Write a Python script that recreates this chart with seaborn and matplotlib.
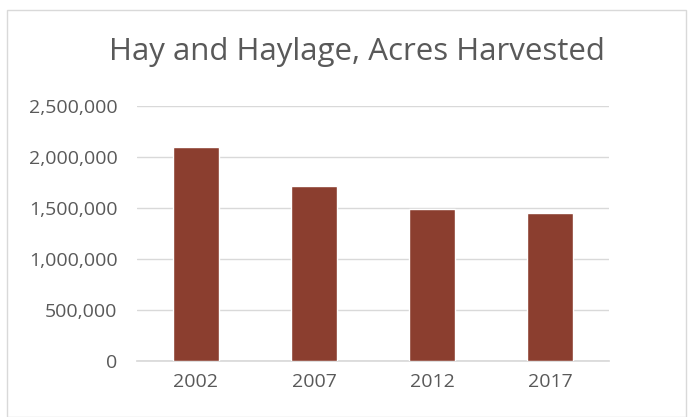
import matplotlib
matplotlib.use("Agg")
import matplotlib.pyplot as plt
import seaborn as sns
import pandas as pd
from matplotlib.ticker import FuncFormatter
from matplotlib.patches import Rectangle

years = ["2002", "2007", "2012", "2017"]
acres = [2100000, 1718000, 1488000, 1447000]
yticks = [0, 500000, 1000000, 1500000, 2000000, 2500000]

df = pd.DataFrame({"year": years, "acres": acres})

sns.set_theme(style="white")
plt.rcParams['font.family'] = ['Open Sans', 'DejaVu Sans']

fig = plt.figure(figsize=(6.94, 4.17), dpi=100)
ax = fig.add_axes([137/694, 1 - 360.5/417, (609-137)/694, (360.5-106)/417])

sns.barplot(data=df, x="year", y="acres", color="#8B3E2F", saturation=1,
            width=0.39, ax=ax, zorder=3)

ax.set_ylim(0, 2500000)
ax.set_yticks(yticks)
ax.yaxis.set_major_formatter(FuncFormatter(lambda v, p: f"{int(v):,}"))
ax.grid(axis="y", color="#D9D9D9", linewidth=1, zorder=0)
ax.set_xlabel("")
ax.set_ylabel("")
for s in ["top", "right", "left"]:
    ax.spines[s].set_visible(False)
ax.spines["bottom"].set_color("#D9D9D9")
ax.tick_params(axis="both", length=0, colors="#595959", labelsize=14)
ax.tick_params(axis="y", pad=14)
ax.tick_params(axis="x", pad=9)

fig.text(357/694, 1 - 52/417, "Hay and Haylage, Acres Harvested",
         ha="center", va="center", fontsize=22.5, color="#595959")

fig.patches.append(Rectangle((7/694, 0), (686-7)/694, 1 - 10/417,
                             transform=fig.transFigure, fill=False,
                             edgecolor="#D9D9D9", linewidth=1))

fig.savefig("out.png", dpi=100)
